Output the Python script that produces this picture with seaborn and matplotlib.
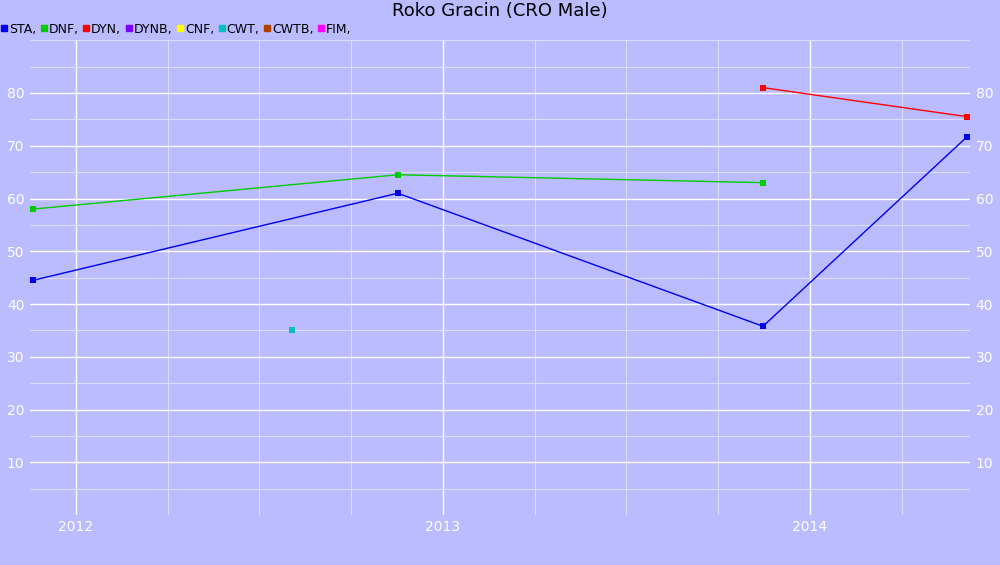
import matplotlib
matplotlib.use("Agg")
import matplotlib.pyplot as plt
import seaborn as sns
import pandas as pd
from matplotlib.ticker import MultipleLocator
from matplotlib.lines import Line2D

# data (x in fractional years)
sta_x = [2011.883, 2012.877, 2013.872, 2014.428]
sta_y = [44.5, 61.0, 35.8, 71.7]
dnf_x = [2011.883, 2012.877, 2013.872]
dnf_y = [58.0, 64.5, 63.0]
dyn_x = [2013.872, 2014.428]
dyn_y = [81.0, 75.5]
cwt_x = [2012.59]
cwt_y = [35.0]

legend_names = ["STA", "DNF", "DYN", "DYNB", "CNF", "CWT", "CWTB", "FIM"]
legend_colors = ["#0000ee", "#00cc00", "#ff0000", "#8000ff", "#ffff00", "#00c0c0", "#b04000", "#ff00ff"]

bg = "#bbbbff"
fig = plt.figure(figsize=(10, 5.65), dpi=100, facecolor=bg)
ax = fig.add_axes([0.03, 0.088, 0.94, 0.841])
ax.set_facecolor(bg)

series = [(sta_x, sta_y, "#0000ee"), (dnf_x, dnf_y, "#00cc00"), (dyn_x, dyn_y, "#ff0000"), (cwt_x, cwt_y, "#00c0c0")]
for xs, ys, c in series:
    df = pd.DataFrame({"x": xs, "y": ys})
    sns.lineplot(data=df, x="x", y="y", color=c, lw=1, marker="s", markersize=4,
                 markeredgewidth=0, ax=ax, zorder=3)

ax.set_xlim(2011.875, 2014.436)
ax.set_ylim(0, 90)
ax.xaxis.set_major_locator(MultipleLocator(1))
ax.xaxis.set_minor_locator(MultipleLocator(0.25))
ax.yaxis.set_major_locator(MultipleLocator(10))
ax.yaxis.set_minor_locator(MultipleLocator(5))
ax.set_yticks(range(10, 90, 10))
ax.grid(which="major", color="white", lw=1)
ax.grid(which="minor", color="#dcdcff", lw=0.8)
ax.set_axisbelow(True)
for s in ax.spines.values():
    s.set_visible(False)
ax.tick_params(which="both", length=0, colors="white", labelsize=10)
ax.tick_params(axis="y", labelright=True, pad=4)
ax.set_xlabel("")
ax.set_ylabel("")

fig.text(0.5, 0.981, "Roko Gracin (CRO Male)", ha="center", va="center", fontsize=13)
handles = [Line2D([], [], ls="", marker="s", color=c, markersize=5) for c in legend_colors]
fig.legend(handles, [n + "," for n in legend_names], loc="upper left", bbox_to_anchor=(0.0, 0.962),
           ncol=8, frameon=False, handlelength=0.4, handletextpad=0.2, columnspacing=0.4,
           fontsize=9, borderaxespad=0, borderpad=0.1)

fig.savefig("out.png", dpi=100, facecolor=bg)
